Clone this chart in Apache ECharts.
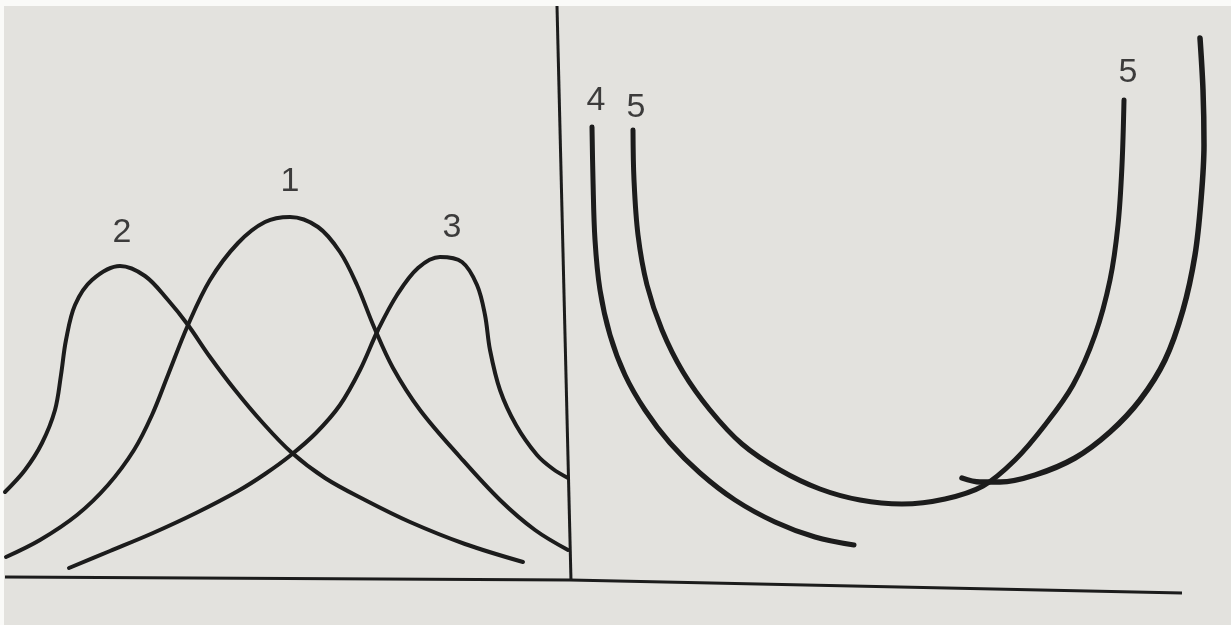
<!DOCTYPE html>
<html>
<head>
<meta charset="utf-8">
<script src="https://cdn.jsdelivr.net/npm/echarts@6/dist/echarts.min.js"></script>
<style>
  html, body { margin: 0; padding: 0; background: #fafaf8; }
  #chart { width: 1231px; height: 625px; }
</style>
</head>
<body>
<div id="chart"></div>
<script>
// points, [x, y] in picture units (y grows downward)
const curve1 = [[6, 557], [40, 540], [77, 515], [108, 485], [134, 450], [152, 415], [168, 375], [188, 325], [210, 280], [238, 243], [265, 222], [290, 217], [318, 227], [340, 252], [357, 285], [374, 327], [393, 368], [420, 410], [460, 457], [500, 500], [535, 530], [568, 550]]
const curve2 = [[5, 492], [25, 470], [42, 443], [55, 410], [61, 375], [66, 340], [75, 305], [92, 280], [120, 266], [145, 276], [168, 300], [188, 325], [210, 357], [235, 390], [262, 422], [291, 452], [325, 478], [365, 500], [410, 522], [465, 544], [523, 562]]
const curve3 = [[69, 568], [110, 551], [153, 533], [196, 513], [238, 491], [265, 474], [291, 455], [316, 433], [340, 405], [360, 370], [378, 330], [397, 295], [418, 268], [440, 257], [462, 262], [477, 285], [485, 315], [490, 350], [500, 390], [516, 425], [537, 455], [553, 469], [568, 478]]
const curve4 = [[592, 127], [593, 180], [595, 240], [600, 290], [610, 335], [625, 375], [645, 410], [670, 443], [700, 473], [735, 500], [775, 522], [815, 537], [854, 545]]
const curve5 = [[633, 130], [634, 180], [638, 235], [647, 285], [662, 330], [683, 372], [710, 410], [742, 444], [780, 470], [820, 489], [860, 500], [902, 504], [945, 499], [983, 486], [1015, 460], [1045, 425], [1073, 385], [1095, 335], [1110, 280], [1118, 225], [1122, 165], [1124, 100]]
const curve6 = [[1200, 38], [1203, 90], [1204, 145], [1201, 200], [1195, 255], [1183, 310], [1165, 360], [1140, 400], [1110, 432], [1075, 458], [1035, 475], [1000, 482], [980, 482], [962, 478]]

const baseline = [[5, 577], [570, 580], [1182, 593]]
const divider = [[557, 6], [571, 581]]

const labelText = ["1", "2", "3", "4", "5", "5"]
const labelPos = [[290, 182], [122, 233], [452, 228], [596, 101], [636, 108], [1128, 73]]

const chart = echarts.init(document.getElementById("chart"))

const ink = "#1c1c1c"
const curveSeries = (data, width) => ({
  type: "line",
  data,
  smooth: 0.35,
  symbol: "none",
  silent: true,
  lineStyle: {color: ink, width, cap: "round"}
})

chart.setOption({
  backgroundColor: "transparent",
  animation: false,
  graphic: [{
    type: "rect",
    shape: {x: 4, y: 6, width: 1227, height: 619},
    style: {fill: "#e3e2de"},
    z: -10
  }],
  grid: {left: 0, right: 0, top: 0, bottom: 0},
  xAxis: {type: "value", min: 0, max: 1231, show: false},
  yAxis: {type: "value", min: 0, max: 625, inverse: true, show: false},
  series: [
    {type: "line", data: baseline, symbol: "none", silent: true, lineStyle: {color: ink, width: 3}},
    {type: "line", data: divider, symbol: "none", silent: true, lineStyle: {color: ink, width: 3}},
    curveSeries(curve1, 4),
    curveSeries(curve2, 4),
    curveSeries(curve3, 4),
    curveSeries(curve4, 5),
    curveSeries(curve5, 5),
    curveSeries(curve6, 5.5),
    {
      type: "scatter",
      symbolSize: 0,
      silent: true,
      data: labelPos.map((p, i) => ({value: p, name: labelText[i]})),
      label: {
        show: true,
        position: "inside",
        formatter: "{b}",
        fontFamily: "Liberation Sans",
        fontSize: 34,
        color: "#111111"
      }
    }
  ]
})
</script>
</body>
</html>
